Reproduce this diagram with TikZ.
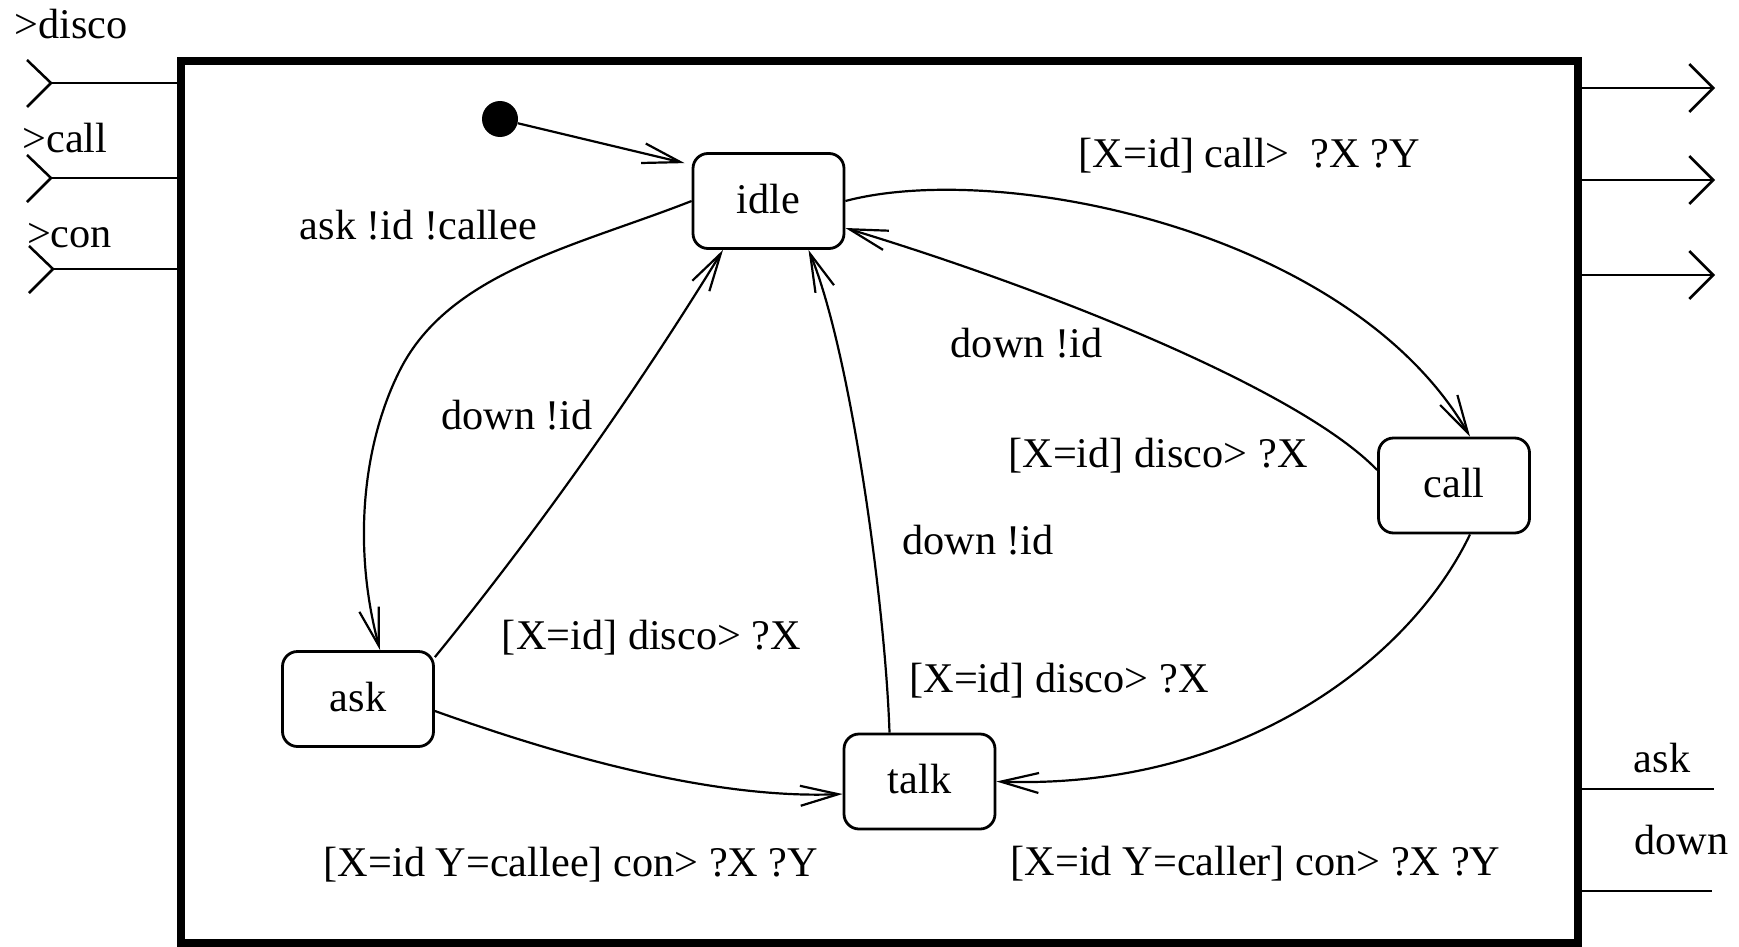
\documentclass[tikz,border=0pt]{standalone}
\usepackage{fontspec}
\setmainfont{Liberation Serif}
\usetikzlibrary{arrows.meta}
\begin{document}
\begin{tikzpicture}[x=1pt,y=-1pt,
  font=\fontsize{42.3pt}{50pt}\selectfont,
  state/.style={draw, line width=2.8pt, rounded corners=15pt, minimum width=151pt, minimum height=95pt, inner sep=0pt, text height=28.9pt, text depth=4pt},
  trans/.style={line width=2.2pt, -{Straight Barb[length=38pt,width=20pt]}},
  port/.style={line width=2.5pt},
  outtip/.style={port, -{Straight Barb[length=24pt,width=48pt]}},
  lbl/.style={anchor=base, inner sep=0pt, yshift=-4pt},
]
\useasboundingbox (0,0) rectangle (1739,947);
% system box
\node[draw, line width=8pt, minimum width=1397pt, minimum height=882pt, inner sep=0pt] (sys) at (879.5,502) {};

% states
\node[state] (idle) at (768.5,201) {idle};
\node[state] (call) at (1454,485.5) {call};
\node[state] (ask) at (358,699) {ask};
\node[state] (talk) at (919.5,781.5) {talk};

% initial
\node[circle, fill, minimum size=36pt, inner sep=0pt] (init) at (500,119) {};
\draw[trans] (init) -- ([xshift=-7pt,yshift=-11pt]idle.north west);

% transitions
\draw[trans] (idle.west) .. controls (577,246) and (449.5,272) .. (400,370)
  .. controls (364,441) and (351.4,543.4) .. ([xshift=22pt]ask.north);
\draw[trans] ([yshift=-7pt]ask.north east) .. controls (539,529) and (635,393) .. ([xshift=-45.5pt]idle.south);
\draw[trans] ([yshift=-12pt]ask.east) .. controls (530,745) and (700,800) .. ([yshift=-12.5pt]talk.west);
\draw[trans] ([xshift=-30pt]talk.north) .. controls (885,600) and (850,350) .. ([xshift=40pt]idle.south);
\draw[trans] (idle.east) .. controls (1000,160) and (1350,230) .. ([xshift=16pt]call.north);
\draw[trans] ([yshift=15.5pt]call.west) .. controls (1300,390) and (1050,290) .. ([yshift=-27pt]idle.east);
\draw[trans] ([xshift=16pt]call.south) .. controls (1410,660) and (1240,790) .. (talk.east);

% transition labels
\node[lbl] (l1) at (418.5,235) {ask !id !callee};
\node[lbl] (l2) at (517,425) {down !id};
\node[lbl] (l3) at (651.5,645) {[X=id] disco> ?X};
\node[lbl] (l4) at (571,872) {[X=id Y=callee] con> ?X ?Y};
\node[lbl] (l5) at (1255.5,871) {[X=id Y=caller] con> ?X ?Y};
\node[lbl] (l6) at (1249.5,163) {[X=id] call>\ \ ?X ?Y};
\node[lbl] (l7) at (1026.5,353) {down !id};
\node[lbl] (l8) at (1158,463) {[X=id] disco> ?X};
\node[lbl] (l9) at (978,550) {down !id};
\node[lbl] (l10) at (1059,688) {[X=id] disco> ?X};

% input ports
\coordinate (in1) at (51,83);
\coordinate (in2) at (51,178);
\coordinate (in3) at (53,269);
\foreach \p in {in1,in2,in3}{
  \draw[port] (\p) -- (\p -| sys.west);
  \draw[port] ([shift={(-24pt,23pt)}]\p) -- (\p) -- ([shift={(-24pt,-24pt)}]\p);
}
\node[lbl] (pdisco) at (71,35) {>disco};
\node[lbl] (pcall) at (65,149) {>call};
\node[lbl] (pcon) at (69.5,243) {>con};

% output ports
\coordinate (out1) at (1715,88);
\coordinate (out2) at (1715,180);
\coordinate (out3) at (1715,275);
\foreach \p in {out1,out2,out3}{
  \draw[outtip] (\p -| sys.east) -- (\p);
}

% bottom right signals
\coordinate (askend) at (1714,789);
\coordinate (downend) at (1712,891);
\draw[port] (askend -| sys.east) -- (askend);
\draw[port] (downend -| sys.east) -- (downend);
\node[lbl] (sask) at (1662,768) {ask};
\node[lbl] (sdown) at (1681.5,850) {down};
\end{tikzpicture}
\end{document}
